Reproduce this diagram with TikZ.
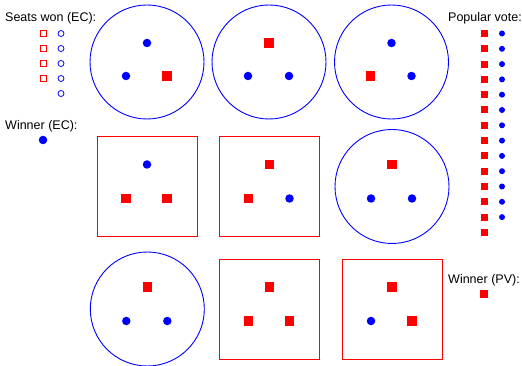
\documentclass[tikz,border=0pt]{standalone}
\usepackage{fontspec}
\setmainfont{Liberation Sans}
\tikzset{
  bdot/.style={circle,fill=blue,inner sep=0pt,minimum size=8.5pt},
  rsq/.style={rectangle,fill=red,inner sep=0pt,minimum size=9.5pt},
  bring/.style={circle,draw=blue,line width=0.9pt,inner sep=0pt,minimum size=114pt},
  rbox/.style={rectangle,draw=red,line width=0.9pt,inner sep=0pt,minimum size=100pt},
  sbdot/.style={circle,fill=blue,inner sep=0pt,minimum size=6pt},
  srsq/.style={rectangle,fill=red,inner sep=0pt,minimum size=7pt},
  obdot/.style={circle,draw=blue,line width=0.8pt,inner sep=0pt,minimum size=6pt},
  orsq/.style={rectangle,draw=red,line width=0.8pt,inner sep=0pt,minimum size=6pt},
  lbl/.style={font=\fontsize{12.5}{14}\selectfont,inner sep=0pt,anchor=west}
}
\begin{document}
\begin{tikzpicture}[x=1pt,y=-1pt]
  \useasboundingbox (0,0) rectangle (522,366);
  % top row
  \begin{scope}[shift={(147,62)}]
    \node[bring] (d1) at (0,0) {};
    \node[bdot] (d1t) at (0,-19) {};
    \node[bdot] (d1l) at (-21,14) {};
    \node[rsq] (d1r) at (20,14) {};
  \end{scope}
  \begin{scope}[shift={(269,62)}]
    \node[bring] (d2) at (0,0) {};
    \node[rsq] (d2t) at (0,-19) {};
    \node[bdot] (d2l) at (-21,14) {};
    \node[bdot] (d2r) at (20,14) {};
  \end{scope}
  \begin{scope}[shift={(391.5,62)}]
    \node[bring] (d3) at (0,0) {};
    \node[bdot] (d3t) at (0,-19) {};
    \node[rsq] (d3l) at (-21,14) {};
    \node[bdot] (d3r) at (20,14) {};
  \end{scope}
  % middle row
  \begin{scope}[shift={(147,186.5)}]
    \node[rbox] (d4) at (0,0) {};
    \node[bdot] (d4t) at (0,-22) {};
    \node[rsq] (d4l) at (-21,12) {};
    \node[rsq] (d4r) at (20,12) {};
  \end{scope}
  \begin{scope}[shift={(269.5,186.5)}]
    \node[rbox] (d5) at (0,0) {};
    \node[rsq] (d5t) at (0,-22) {};
    \node[rsq] (d5l) at (-21,12) {};
    \node[bdot] (d5r) at (20,12) {};
  \end{scope}
  \begin{scope}[shift={(392,186.5)}]
    \node[bring] (d6) at (0,0) {};
    \node[rsq] (d6t) at (0,-22) {};
    \node[bdot] (d6l) at (-21,12) {};
    \node[bdot] (d6r) at (20,12) {};
  \end{scope}
  % bottom row
  \begin{scope}[shift={(147.3,309)}]
    \node[bring] (d7) at (0,0) {};
    \node[rsq] (d7t) at (0,-22) {};
    \node[bdot] (d7l) at (-21,12) {};
    \node[bdot] (d7r) at (20,12) {};
  \end{scope}
  \begin{scope}[shift={(269.5,309)}]
    \node[rbox] (d8) at (0,0) {};
    \node[rsq] (d8t) at (0,-22) {};
    \node[rsq] (d8l) at (-21,12) {};
    \node[rsq] (d8r) at (20,12) {};
  \end{scope}
  \begin{scope}[shift={(392,309)}]
    \node[rbox] (d9) at (0,0) {};
    \node[rsq] (d9t) at (0,-22) {};
    \node[bdot] (d9l) at (-21,12) {};
    \node[rsq] (d9r) at (20,12) {};
  \end{scope}
  % electoral college legend
  \node[lbl] (ec) at (5,18) {Seats won (EC):};
  \foreach \i in {0,...,3}
    \node[orsq] (ecr\i) at (43,33.5+15*\i) {};
  \foreach \i in {0,...,4}
    \node[obdot] (ecb\i) at (61,33.5+15*\i) {};
  \node[lbl] (wec) at (5,126) {Winner (EC):};
  \node[bdot] (wecd) at (43,140) {};
  % popular vote legend
  \node[lbl] (pv) at (448,18) {Popular vote:};
  \foreach \i in {0,...,13}
    \node[srsq] (pvr\i) at (484,33.5+15.3*\i) {};
  \foreach \i in {0,...,12}
    \node[sbdot] (pvb\i) at (502,33.5+15.3*\i) {};
  \node[lbl] (wpv) at (448,280) {Winner (PV):};
  \node[rsq,minimum size=8pt] (wpvd) at (484,294) {};
\end{tikzpicture}
\end{document}
